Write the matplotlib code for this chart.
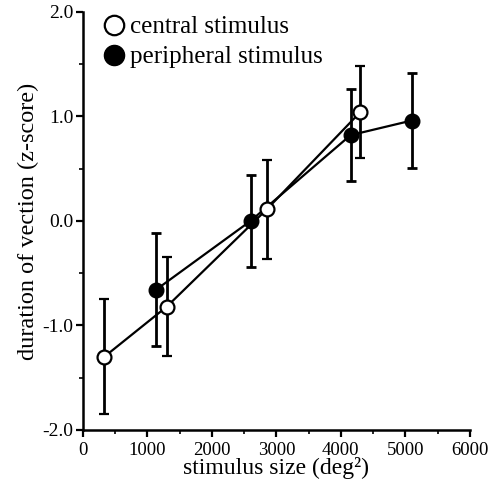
import matplotlib
matplotlib.use("Agg")
import matplotlib.pyplot as plt
from matplotlib.lines import Line2D
from matplotlib.ticker import MultipleLocator

plt.rcParams['font.family'] = ['Liberation Serif', 'DejaVu Serif']
plt.rcParams['axes.unicode_minus'] = False

# central stimulus (open circles)
central_x = [330, 1300, 2850, 4300]
central_y = [-1.30, -0.82, 0.11, 1.04]
central_err = [0.55, 0.47, 0.47, 0.44]

# peripheral stimulus (filled circles)
periph_x = [1130, 2600, 4150, 5100]
periph_y = [-0.66, 0.00, 0.82, 0.96]
periph_err = [0.54, 0.44, 0.44, 0.45]

x_ticks = [0, 1000, 2000, 3000, 4000, 5000, 6000]
y_ticks = [-2.0, -1.0, 0.0, 1.0, 2.0]
y_labels = ["-2.0", "-1.0", "0.0", "1.0", "2.0"]

fig = plt.figure(figsize=(4.94, 4.84), dpi=100)
ax = fig.add_axes([0.168, 0.1116, 0.783, 0.864])

ax.errorbar(periph_x, periph_y, yerr=periph_err, fmt='-o', color='black',
            mfc='black', mec='black', ms=10.5, lw=1.6, elinewidth=2,
            capsize=3.5, capthick=2, zorder=2)
ax.errorbar(central_x, central_y, yerr=central_err, fmt='-o', color='black',
            mfc='white', mec='black', mew=1.6, ms=10, lw=1.6, elinewidth=2,
            capsize=3.5, capthick=2, zorder=3)

ax.set_xlim(0, 6000)
ax.set_ylim(-2.0, 2.0)
ax.set_xticks(x_ticks)
ax.set_yticks(y_ticks)
ax.set_yticklabels(y_labels)
ax.xaxis.set_minor_locator(MultipleLocator(500))
ax.yaxis.set_minor_locator(MultipleLocator(0.5))

for side in ['top', 'right']:
    ax.spines[side].set_visible(False)
for side in ['left', 'bottom']:
    ax.spines[side].set_linewidth(1.8)
ax.tick_params(which='major', direction='out', length=5, width=1.6, labelsize=14)
ax.tick_params(axis='x', which='major', pad=3.5, labelsize=13.5)
ax.tick_params(axis='y', which='major', pad=2)
ax.tick_params(which='minor', direction='out', length=3, width=1.2)

ax.set_xlabel('stimulus size (deg\u00b2)', fontsize=17, labelpad=-1)
ax.set_ylabel('duration of vection (z-score)', fontsize=17.5, labelpad=2)

handles = [
    Line2D([], [], ls='none', marker='o', mfc='white', mec='black', mew=1.6, ms=14),
    Line2D([], [], ls='none', marker='o', mfc='black', mec='black', ms=14.5),
]
ax.legend(handles, ['central stimulus', 'peripheral stimulus'], loc='upper left',
          frameon=False, fontsize=18, handlelength=0.9, handletextpad=0.2,
          labelspacing=0.3, borderaxespad=0.0, borderpad=0.0,
          bbox_to_anchor=(0.05, 0.99))

fig.savefig('out.png', dpi=100)
